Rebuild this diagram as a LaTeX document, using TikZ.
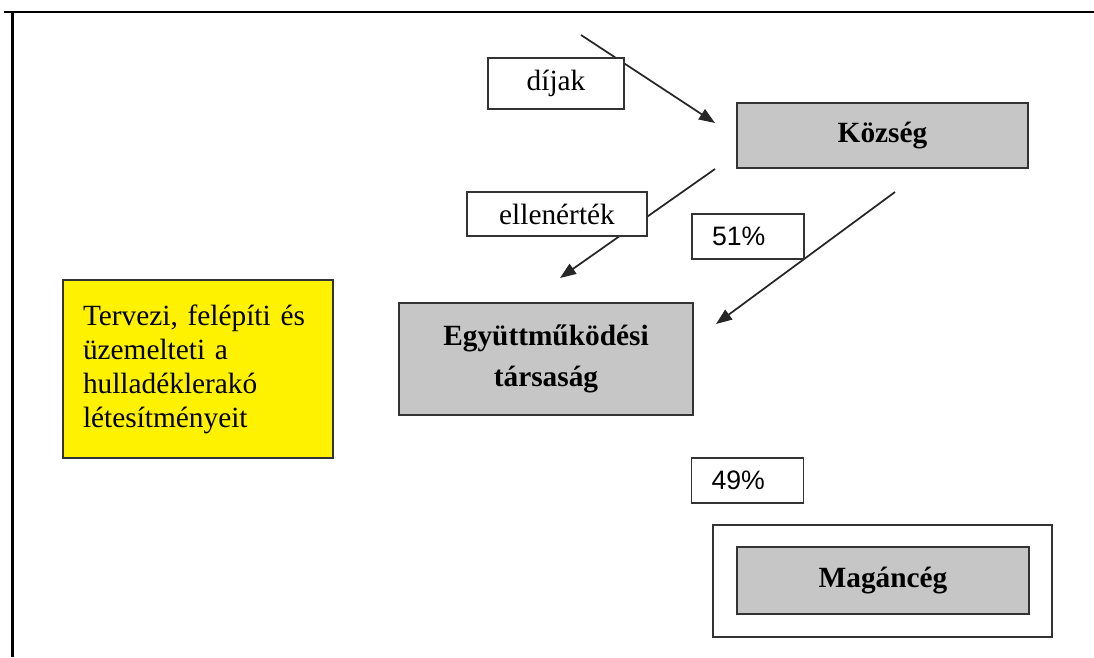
\documentclass[tikz,border=0pt]{standalone}
\usepackage{fontspec}
\setmainfont{Liberation Serif}
\newfontfamily\pctfont{Liberation Sans}
\usetikzlibrary{arrows.meta,backgrounds}
\begin{document}
\begin{tikzpicture}[x=0.75pt,y=-0.75pt,
  every node/.style = {shape=rectangle, draw=black!80, line width=1.1pt,
    inner sep=0pt, align=center},
  label/.style = {fill=white, font=\fontsize{22}{26}\selectfont},
  pct/.style = {fill=white, font=\pctfont\fontsize{20}{24}\selectfont,
    text width=54pt, align=left, minimum width=84pt, minimum height=33.75pt},
  firm/.style = {fill=gray!45, font=\bfseries\fontsize{22}{31}\selectfont},
  note/.style = {fill=yellow, font=\fontsize{22}{25.5}\selectfont,
    text width=172.5pt, align=left},
  flow/.style = {draw=black!85, line width=1.3pt,
    -{Triangle[length=12pt,width=9pt]}}]
  \useasboundingbox (0,0) rectangle (1094,657);
  \draw[line width=2.2pt] (4,12) -- (1094,12) (12.7,12) -- (12.7,657);

  \node[label, minimum width=102pt, minimum height=38.25pt] (dijak) at (556,83.5) {díjak};
  \node[firm, minimum width=218.25pt, minimum height=48.75pt] (kozseg) at (882.5,135.5) {Község};
  \node[label, minimum width=135pt, minimum height=33pt] (ellen) at (557,214) {ellenérték};
  \node[pct] (pct51) at (748,236.5) {51\%};
  \node[firm, minimum width=220.5pt, minimum height=84pt] (tarsasag) at (546,359)
    {Együttműködési\\társaság};
  \node[note, minimum width=202.5pt, minimum height=133.5pt] (feladat) at (198,369)
    {Tervezi, felépíti és\\üzemelteti a\\hulladéklerakó\\létesítményeit};
  \node[pct] (pct49) at (747.5,480.5) {49\%};
  \node[fill=white, minimum width=254.25pt, minimum height=84pt] (magan-keret) at (882.5,581) {};
  \node[firm, minimum width=219pt, minimum height=50.25pt] (magan) at (883,580.5) {Magáncég};

  \coordinate (dijak-from) at (581,35);
  \coordinate (dijak-to) at (715,123);
  \coordinate (ellen-from) at (715,169);
  \coordinate (ellen-to) at (560,278);
  \coordinate (pct51-from) at (895,192);
  \coordinate (pct51-to) at (716,324);
  \begin{scope}[on background layer]
    \draw[flow] (dijak-from) -- (dijak-to);
    \draw[flow] (ellen-from) -- (ellen-to);
    \draw[flow] (pct51-from) -- (pct51-to);
  \end{scope}
\end{tikzpicture}
\end{document}
